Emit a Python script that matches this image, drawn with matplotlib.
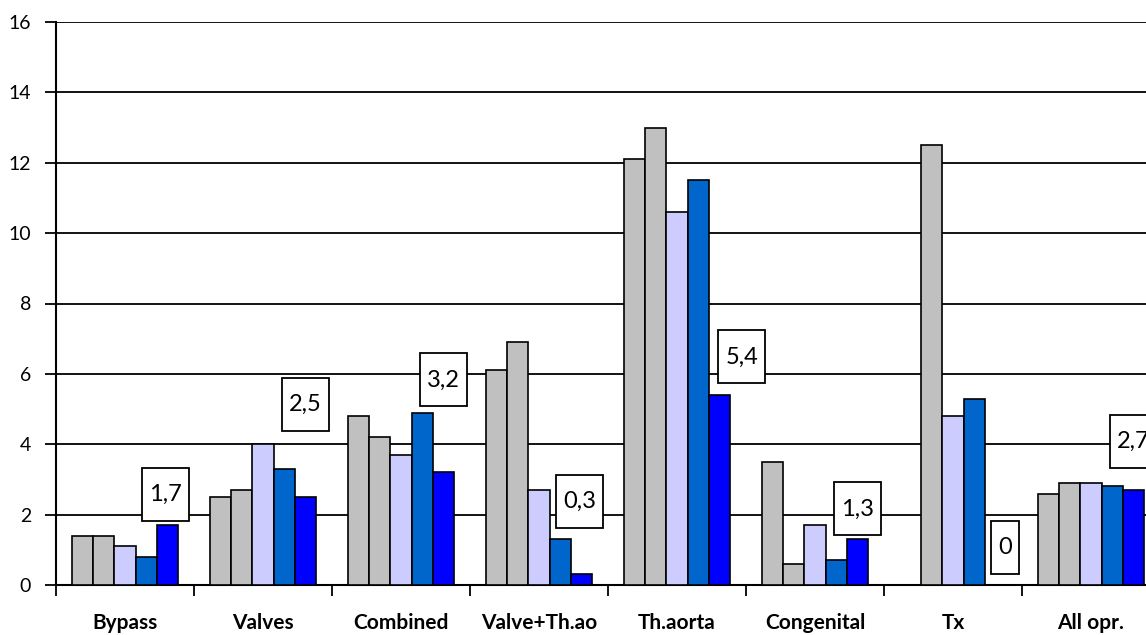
import numpy as np
from matplotlib import pyplot as plt
from matplotlib.path import Path

plt.rcParams['font.family'] = ['Lato', 'DejaVu Sans']

categories = ['Bypass', 'Valves', 'Combined', 'Valve+Th.ao', 'Th.aorta', 'Congenital', 'Tx', 'All opr.']
series_1 = [1.4, 2.5, 4.8, 6.1, 12.1, 3.5, np.nan, 2.6]
series_2 = [1.4, 2.7, 4.2, 6.9, 13.0, 0.6, 12.5, 2.9]
series_3 = [1.1, 4.0, 3.7, 2.7, 10.6, 1.7, 4.8, 2.9]
series_4 = [0.8, 3.3, 4.9, 1.3, 11.5, 0.7, 5.3, 2.8]
series_5 = [1.7, 2.5, 3.2, 0.3, 5.4, 1.3, 0.0, 2.7]
label_texts = ['1,7', '2,5', '3,2', '0,3', '5,4', '1,3', '0', '2,7']

# hand placed label boxes (as in the original sheet)
label_y = [2.57, 5.12, 5.83, 2.38, 6.48, 2.16, 1.07, 4.09]
label_dx = [-0.1, 0, 0, -0.1, 1.05, 0, 0.45, 0]

colors = ['#C0C0C0', '#C0C0C0', '#CCCCFF', '#0066CC', '#0000FF']
all_series = [series_1, series_2, series_3, series_4, series_5]


def excel_box(x0, y0, width, height, mutation_size):
    # wider vertical padding than horizontal, like the excel label boxes
    px, py = 7, 16
    x0, y0 = x0 - px, y0 - py
    x1, y1 = x0 + width + 2 * px, y0 + height + 2 * py
    return Path([(x0, y0), (x1, y0), (x1, y1), (x0, y1), (x0, y0)], closed=True)


fig = plt.figure(figsize=(11.46, 6.35), dpi=100)
ax = fig.add_axes([56 / 1146, 50 / 635, 1104 / 1146, 563 / 635])

x = np.arange(len(categories))
bw = 0.154
for i, (vals, c) in enumerate(zip(all_series, colors)):
    ax.bar(x + (i - 2) * bw, vals, width=bw, color=c, edgecolor='black', linewidth=1.2, zorder=3)

for i, txt in enumerate(label_texts):
    ax.text(x[i] + 2 * bw + label_dx[i] * bw, label_y[i], txt, ha='center', va='center', fontsize=17,
            zorder=4, bbox=dict(boxstyle=excel_box, facecolor='white', edgecolor='black', linewidth=1.3))

ax.set_xlim(-0.5, len(categories) - 0.5)
ax.set_ylim(0, 16)
ax.set_yticks(range(0, 17, 2))
ax.yaxis.grid(True, color='black', linewidth=1.3, zorder=0)
ax.set_axisbelow(True)

ax.set_xticks(np.arange(-0.5, len(categories), 1.0))
ax.set_xticklabels([])
ax.set_xticks(x, minor=True)
ax.set_xticklabels(categories, minor=True, fontsize=15, fontweight='bold')
ax.tick_params(axis='x', which='major', length=8, width=1.3, direction='out')
ax.tick_params(axis='x', which='minor', length=0, pad=20)
ax.tick_params(axis='y', length=8, width=1.3, labelsize=14, pad=10)

for side in ['top', 'right']:
    ax.spines[side].set_visible(False)
ax.spines['left'].set_linewidth(1.5)
ax.spines['bottom'].set_linewidth(1.5)

fig.savefig('out.png', dpi=100)
